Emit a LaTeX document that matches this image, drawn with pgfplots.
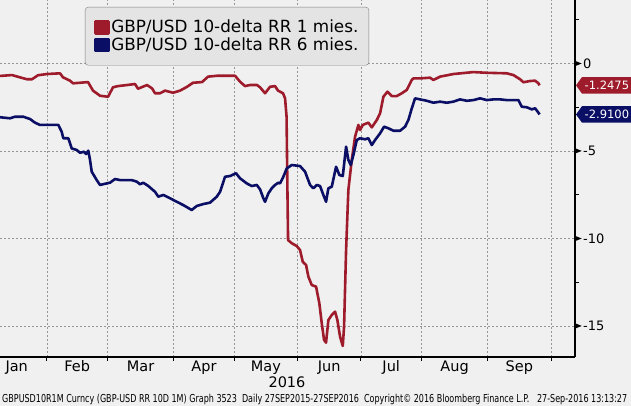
\documentclass[border=0pt]{standalone}
\usepackage{fontspec}
\setmainfont{DejaVu Sans}
\usepackage{pgfplots}
\pgfplotsset{compat=1.18}
\definecolor{bg}{RGB}{240,240,240}
\definecolor{lgbg}{RGB}{228,228,228}
\definecolor{rr1}{RGB}{158,27,44}
\definecolor{rr6}{RGB}{10,14,100}
\definecolor{gridc}{RGB}{150,150,150}
\newcommand{\tri}{\tikz[baseline=-0.365em]\fill[black] (0pt,-2.6pt) -- (6.5pt,0pt) -- (0pt,2.6pt) -- cycle;\hspace{1.5pt}}
\begin{document}
\begin{tikzpicture}[x=1pt,y=1pt]
\fill[bg] (0,0) rectangle (631,406);
\useasboundingbox (0,0) rectangle (631,406);
\begin{axis}[
  at={(0pt,49pt)}, anchor=south west,
  scale only axis, width=575pt, height=357pt,
  xmin=4.69, xmax=204.3, ymin=-16.77, ymax=3.63,
  axis x line*=bottom, axis y line*=right,
  axis line style={black, line width=1.2pt},
  clip=false,
  tick align=outside,
  major tick length=4pt, minor tick length=4pt,
  tick style={black, line width=1pt},
  xtick={21,42,65,86,108,130,151,174,196},
  xticklabels={},
  extra x ticks={10.5,31.5,53.5,75.5,97,119,140.5,162.5,185},
  extra x tick labels={Jan,Feb,Mar,Apr,May,Jun,Jul,Aug,Sep},
  extra x tick style={grid=none, major tick length=0pt,
    xticklabel style={font=\fontsize{14.5}{15}\selectfont, inner sep=0pt, anchor=base, yshift=-15pt}},
  ytick={-15,-10,-5,0},
  yticklabels={\tri-15,\tri-10,\tri-5,\tri0},
  minor ytick={-12.5,-7.5,-2.5,2.5},
  yticklabel style={font=\fontsize{13}{14}\selectfont, inner sep=0pt, anchor=west, xshift=-4pt},
  grid=major,
  major grid style={gridc, dash pattern=on 1.5pt off 2.5pt, line width=0.7pt},
  legend style={at={(axis description cs:0.1478,0.9804)}, anchor=north west,
    draw=gray, fill=lgbg, rounded corners=3pt,
    font=\fontsize{16.8}{18}\selectfont,
    inner xsep=9pt, inner ysep=12pt, row sep=1.5pt,
    nodes={inner xsep=1.5pt, inner ysep=1pt}},
  legend cell align=left,
  legend image code/.code={\fill[#1, sharp corners] (0pt,-6pt) rectangle (13pt,6pt);},
]
\addplot[rr1, line width=2.6pt, line join=round] coordinates {
(4.69,-0.71)(8.85,-0.66)(11.63,-0.79)(14.06,-0.90)(15.80,-0.90)(17.88,-0.67)(21.01,-0.60)(25.52,-0.56)(26.56,-0.79)(28.99,-0.98)(30.03,-1.13)(32.47,-1.10)(35.24,-1.06)(36.98,-1.55)(39.41,-1.84)(42.19,-1.90)(43.92,-1.36)(45.66,-1.29)(48.78,-1.23)(51.56,-1.17)(52.60,-1.44)(55.73,-1.23)(57.48,-1.42)(58.51,-1.70)(60.24,-1.70)(61.98,-1.55)(64.76,-1.67)(67.19,-1.55)(69.62,-1.33)(71.70,-1.10)(74.83,-1.06)(76.91,-0.75)(80.03,-0.70)(86.28,-0.70)(88.02,-1.04)(89.75,-1.29)(91.49,-1.23)(93.92,-1.23)(94.97,-1.36)(96.70,-1.70)(98.44,-1.33)(100.17,-1.29)(101.21,-1.55)(102.95,-1.70)(103.65,-1.99)(104.17,-3.04)(104.44,-6.85)(104.69,-10.09)(105.97,-10.27)(107.71,-10.43)(108.85,-10.66)(109.79,-11.33)(110.94,-11.51)(111.74,-12.18)(112.92,-12.66)(114.41,-12.75)(115.55,-13.70)(116.39,-14.85)(117.19,-15.80)(117.88,-15.95)(118.68,-14.66)(119.86,-14.37)(121.01,-14.18)(121.81,-14.66)(122.74,-15.61)(123.68,-16.14)(124.13,-15.04)(124.83,-10.66)(125.62,-7.23)(126.80,-5.51)(127.95,-4.18)(129.10,-3.51)(129.69,-3.80)(130.62,-3.51)(132.57,-3.38)(133.75,-3.65)(135.49,-3.23)(136.63,-2.85)(137.78,-1.90)(139.17,-1.61)(140.70,-1.86)(142.43,-1.86)(144.17,-1.70)(145.91,-1.51)(147.64,-0.94)(148.20,-0.85)(150.52,-0.85)(153.99,-0.81)(155.14,-0.94)(157.47,-0.75)(162.08,-0.60)(169.03,-0.49)(173.68,-0.53)(180.63,-0.56)(182.92,-0.66)(185.24,-0.90)(186.39,-1.07)(188.71,-1.00)(190.45,-0.98)(191.60,-1.13)(192.00,-1.2475)
};
\addlegendentry{GBP/USD 10-delta RR 1 mies.}
\addplot[rr6, line width=2.6pt, line join=round] coordinates {
(4.69,-3.07)(8.16,-3.13)(9.90,-3.04)(12.78,-3.04)(15.10,-3.17)(16.84,-3.38)(18.58,-3.51)(20.31,-3.51)(24.93,-3.51)(26.11,-3.90)(26.67,-4.27)(28.40,-4.27)(29.58,-4.85)(31.32,-4.94)(32.47,-5.10)(33.85,-5.04)(34.55,-5.17)(35.35,-4.98)(35.94,-5.51)(36.53,-6.18)(38.26,-6.66)(39.41,-6.94)(41.73,-6.85)(42.88,-6.81)(44.62,-6.60)(46.35,-6.66)(50.42,-6.66)(52.15,-6.75)(53.30,-6.90)(54.44,-6.81)(56.18,-7.00)(58.51,-7.33)(59.65,-7.61)(61.39,-7.51)(63.72,-7.70)(66.04,-7.90)(68.33,-8.09)(71.25,-8.37)(72.99,-8.14)(75.28,-8.03)(77.60,-7.95)(79.93,-7.61)(81.08,-7.33)(82.81,-6.47)(84.55,-6.43)(86.63,-6.27)(88.02,-6.56)(90.35,-6.85)(92.08,-7.00)(93.82,-6.94)(94.97,-7.19)(96.11,-7.70)(96.70,-7.90)(97.85,-7.42)(99.03,-7.13)(100.17,-6.94)(101.32,-6.81)(101.91,-6.85)(103.05,-6.47)(104.24,-5.99)(105.97,-5.80)(108.85,-5.86)(110.59,-6.18)(112.33,-6.94)(113.47,-7.13)(114.65,-6.94)(115.80,-7.00)(116.94,-7.51)(117.88,-7.90)(118.68,-7.13)(119.86,-7.04)(121.35,-5.90)(122.50,-6.37)(123.68,-6.43)(124.83,-4.75)(125.62,-5.51)(126.46,-5.80)(127.36,-5.23)(128.54,-4.37)(129.69,-4.27)(131.42,-4.33)(132.57,-4.27)(133.75,-4.66)(134.90,-4.37)(136.63,-3.99)(138.02,-3.61)(139.51,-3.70)(141.25,-3.84)(143.58,-3.84)(145.31,-3.61)(146.46,-3.23)(147.64,-2.56)(148.78,-1.99)(150.52,-2.05)(152.85,-2.13)(155.14,-2.24)(157.47,-2.18)(159.79,-2.24)(162.08,-2.18)(164.41,-2.05)(166.73,-2.13)(169.03,-2.09)(171.35,-1.99)(173.68,-2.09)(175.98,-2.05)(178.30,-2.05)(180.63,-2.09)(182.92,-2.09)(184.66,-2.09)(185.83,-2.47)(187.57,-2.50)(189.30,-2.62)(190.45,-2.56)(191.60,-2.81)(192.00,-2.91)
};
\addlegendentry{GBP/USD 10-delta RR 6 mies.}
\coordinate (redend) at (axis cs:204.3,-1.2475);
\coordinate (blueend) at (axis cs:204.3,-2.91);
\end{axis}
\fill[rr1] (redend) ++(1,0) -- ++(6,8.3) -- ++(60,0) -- ++(0,-16.6) -- ++(-60,0) -- cycle;
\node[anchor=west, inner sep=0pt, text=white, font=\fontsize{11.5}{12}\selectfont] at ([xshift=9.5pt]redend) {-1.2475};
\fill[rr6] (blueend) ++(1,0) -- ++(6,8.3) -- ++(60,0) -- ++(0,-16.6) -- ++(-60,0) -- cycle;
\node[anchor=west, inner sep=0pt, text=white, font=\fontsize{11.5}{12}\selectfont] at ([xshift=9.5pt]blueend) {-2.9100};
\node[anchor=base, inner sep=0pt, font=\fontsize{14.5}{15}\selectfont] at (287,18) {2016};
\node[anchor=base west, inner sep=0pt] at (2,3) {\resizebox{625pt}{8.3pt}{\fontsize{9}{9}\selectfont GBPUSD10R1M Curncy (GBP-USD RR 10D 1M) Graph 3523\ \ Daily 27SEP2015-27SEP2016\ \ Copyright© 2016 Bloomberg Finance L.P.\ \ \ 27-Sep-2016 13:13:27}};
\end{tikzpicture}
\end{document}
